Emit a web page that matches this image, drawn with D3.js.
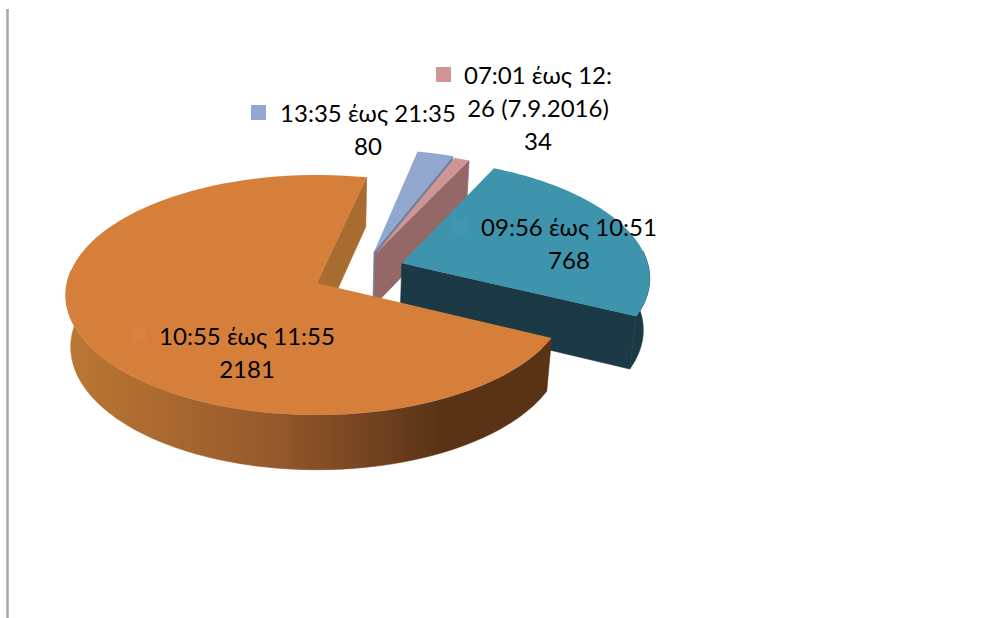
<!DOCTYPE html>
<html>
<head>
<meta charset="utf-8">
<script src="https://cdn.jsdelivr.net/npm/d3@7"></script>
<style>
  html, body { margin: 0; padding: 0; background: #fff; }
  svg { display: block; }
  text { font-family: Lato, "Open Sans", sans-serif; font-size: 24px; fill: #000; text-anchor: middle; }
</style>
</head>
<body>
<div id="chart"></div>
<script>
// slices clockwise from the teal one
const categories = ["09:56 έως 10:51", "10:55 έως 11:55", "13:35 έως 21:35", "07:01 έως 12:26 (7.9.2016)"];
const values = [768, 2181, 80, 34];
const labelLines = [
  ["09:56 έως 10:51", "768"],
  ["10:55 έως 11:55", "2181"],
  ["13:35 έως 21:35", "80"],
  ["07:01 έως 12:", "26 (7.9.2016)", "34"]
];

const width = 984, height = 618;
const topColors = ["#3f94ad", "#d67f3b", "#91a7cf", "#cf9494"];
const cutColors = ["#1b3a46", "#a96c30", "#6f8099", "#956868"];
const rimColors = ["#1b3a46", "url(#orangeWall)", "#8da0c0", "#956868"];
const swatchColors = ["#4197b0", "#d98140", "#92a8d0", "#d09595"];

// explode offset of each slice on the pie plane, in radius units
const explode = [[0.345, -0.17], [0, 0], [0.234, -0.268], [0.24, -0.25]];
// label layout: centre x, first baseline, swatch x, swatch y
const labelLayout = [
  { x: 569, y: 236, sx: 452, sy: 219 },
  { x: 247, y: 345, sx: 131, sy: 327 },
  { x: 368, y: 122, sx: 251, sy: 105 },
  { x: 538, y: 84, sx: 436, sy: 67 }
];

// perspective view of the pie plane
const cx = 317, cy = 283, rx = 250, ry = 118.8, tilt = 0.1, depth = 53, taper = 0.02;
const project = (u, v, z) => {
  const s = 1 / (1 - tilt * v + taper * z);
  return [cx + rx * u * s, cy + (ry * v + depth * z) * s];
};

const svg = d3.select("#chart").append("svg").attr("width", width).attr("height", height);

const grad = svg.append("defs").append("linearGradient")
  .attr("id", "orangeWall")
  .attr("gradientUnits", "userSpaceOnUse")
  .attr("x1", 66).attr("x2", 440).attr("y1", 0).attr("y2", 0);
grad.append("stop").attr("offset", 0).attr("stop-color", "#bb7733");
grad.append("stop").attr("offset", 0.55).attr("stop-color", "#96592b");
grad.append("stop").attr("offset", 1).attr("stop-color", "#5a3317");

svg.append("line")
  .attr("x1", 7.5).attr("x2", 7.5).attr("y1", 9).attr("y2", height)
  .attr("stroke", "#a6a6a6").attr("stroke-width", 2.5);

const pie = d3.pie().sort(null).value(d => d)
  .startAngle(26 * Math.PI / 180)
  .endAngle((26 + 360) * Math.PI / 180);
const arcs = pie(values);
const path = d3.line().curve(d3.curveLinear);

// point on a slice rim, angle clockwise from the far side of the pie
const rimPoint = (i, a, z) => project(explode[i][0] + Math.sin(a), explode[i][1] - Math.cos(a), z);
const apex = (i, z) => project(explode[i][0], explode[i][1], z);
const samples = (a0, a1) => d3.range(0, 1.0001, 1 / 90).map(t => a0 + (a1 - a0) * t);

const frontFrom = 84 * Math.PI / 180, frontTo = 276 * Math.PI / 180;

// back to front
[2, 3, 0, 1].forEach(i => {
  const d = arcs[i];
  const g = svg.append("g").attr("class", "slice");

  // flat cut walls, only the ones turned to the viewer
  [d.startAngle, d.endAngle].forEach((a, k) => {
    const quad = [apex(i, 0), rimPoint(i, a, 0), rimPoint(i, a, 1), apex(i, 1)];
    const area = d3.polygonArea(quad);
    if ((k === 0 && area > 0) || (k === 1 && area < 0)) {
      g.append("path").attr("d", path(quad) + "Z")
        .attr("fill", cutColors[i]).attr("stroke", cutColors[i]).attr("stroke-width", 0.6);
    }
  });

  // rim wall
  const a0 = Math.max(d.startAngle, frontFrom), a1 = Math.min(d.endAngle, frontTo);
  if (a1 > a0) {
    const outer = samples(a0, a1);
    const pts = outer.map(a => rimPoint(i, a, 0)).concat(outer.slice().reverse().map(a => rimPoint(i, a, 1)));
    g.append("path").attr("d", path(pts) + "Z")
      .attr("fill", rimColors[i]).attr("stroke", rimColors[i]).attr("stroke-width", 0.6);
  }

  // top face
  const top = [apex(i, 0)].concat(samples(d.startAngle, d.endAngle).map(a => rimPoint(i, a, 0)));
  g.append("path").attr("d", path(top) + "Z").attr("fill", topColors[i]);
});

// labels go over everything
labelLines.forEach((lines, i) => {
  const pos = labelLayout[i];
  svg.append("rect")
    .attr("x", pos.sx).attr("y", pos.sy).attr("width", 15).attr("height", 15)
    .attr("fill", swatchColors[i]);
  svg.append("g").selectAll("text")
    .data(lines)
    .enter()
    .append("text")
    .attr("x", pos.x)
    .attr("y", (l, n) => pos.y + n * 33)
    .text(l => l);
});
</script>
</body>
</html>
